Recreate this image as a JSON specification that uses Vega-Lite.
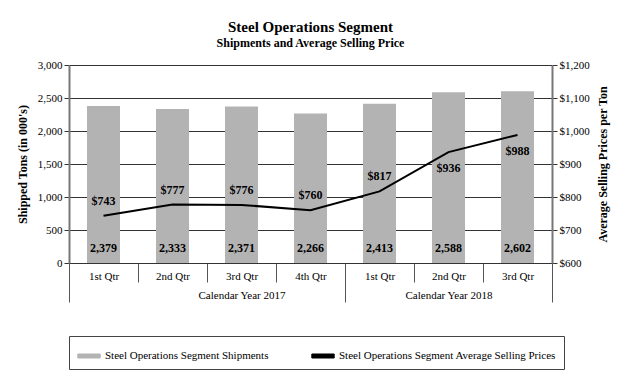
{
  "$schema": "https://vega.github.io/schema/vega-lite/v6.json",
  "width": 483,
  "height": 198,
  "background": "white",
  "padding": {"left": 16, "top": 20, "right": 5, "bottom": 5},
  "config": {
    "font": "Liberation Serif",
    "view": {"stroke": null},
    "axis": {"labelFont": "Liberation Serif", "titleFont": "Liberation Serif", "labelColor": "#000", "titleColor": "#000", "labelFontSize": 11},
    "legend": {"labelFont": "Liberation Serif", "titleFont": "Liberation Serif"}
  },
  "title": {
    "text": "Steel Operations Segment",
    "subtitle": "Shipments and Average Selling Price",
    "font": "Liberation Serif",
    "fontSize": 15,
    "fontWeight": "bold",
    "subtitleFont": "Liberation Serif",
    "subtitleFontSize": 12,
    "subtitleFontWeight": "bold",
    "subtitleColor": "#000",
    "color": "#000",
    "anchor": "middle",
    "offset": 10
  },
  "data": {
    "values": [
      {"q": "2017 1st Qtr", "shipments": 2379, "price": 743},
      {"q": "2017 2nd Qtr", "shipments": 2333, "price": 777},
      {"q": "2017 3rd Qtr", "shipments": 2371, "price": 776},
      {"q": "2017 4th Qtr", "shipments": 2266, "price": 760},
      {"q": "2018 1st Qtr", "shipments": 2413, "price": 817},
      {"q": "2018 2nd Qtr", "shipments": 2588, "price": 936},
      {"q": "2018 3rd Qtr", "shipments": 2602, "price": 988}
    ]
  },
  "encoding": {
    "x": {
      "field": "q", "type": "nominal", "sort": null,
      "scale": {"type": "band", "paddingInner": 0, "paddingOuter": 0},
      "axis": {
        "title": null,
        "labelExpr": "!isString(datum.value) ? '' : (datum.value === '2017 3rd Qtr' ? ['3rd Qtr', 'Calendar Year 2017\u00a0\u00a0\u00a0\u00a0\u00a0\u00a0\u00a0\u00a0\u00a0\u00a0\u00a0\u00a0\u00a0\u00a0\u00a0\u00a0\u00a0\u00a0\u00a0\u00a0\u00a0\u00a0\u00a0\u00a0\u00a0'] : (datum.value === '2018 2nd Qtr' ? ['2nd Qtr', 'Calendar Year 2018'] : [slice(datum.value, 5), '']))",
        "labelAngle": 0,
        "labelOverlap": false,
        "labelBound": false,
        "labelLineHeight": 19,
        "tickBand": "extent",
        "tickSize": {"condition": {"test": "!isString(datum.value) || datum.value === '2017 4th Qtr' || datum.value === '2018 3rd Qtr'", "value": 39}, "value": 19},
        "labelPadding": {"condition": {"test": "datum.value === '2017 4th Qtr' || datum.value === '2018 3rd Qtr'", "value": -32}, "value": -12},
        "tickColor": "#555",
        "domainColor": "#333",
        "labelFontSize": 11
      }
    }
  },
  "layer": [
    {
      "mark": {"type": "bar", "size": 33},
      "encoding": {
        "y": {
          "field": "shipments", "type": "quantitative",
          "scale": {"domain": [0, 3000], "nice": false},
          "axis": {
            "title": "Shipped Tons (in 000's)",
            "titleFontWeight": "bold",
            "titleFontSize": 12,
            "values": [0, 500, 1000, 1500, 2000, 2500, 3000],
            "format": ",d",
            "grid": true,
            "gridColor": "#333",
            "tickColor": "#333",
            "domainColor": "#777",
            "domainWidth": 2,
            "titlePadding": 8
          }
        },
        "color": {
          "datum": "Steel Operations Segment Shipments",
          "scale": {
            "domain": ["Steel Operations Segment Shipments", "Steel Operations Segment Average Selling Prices"],
            "range": ["#b3b3b3", "#000000"]
          },
          "legend": {
            "title": null,
            "orient": "bottom",
            "direction": "horizontal",
            "strokeColor": "#444",
            "padding": 8,
            "offset": 33,
            "labelFont": "Liberation Serif",
            "labelFontSize": 11,
            "labelColor": "#000",
            "labelLimit": 400,
            "columnPadding": 40,
            "symbolType": "M-1,-0.18H1V0.18H-1Z",
            "symbolSize": 500,
            "symbolStrokeWidth": 1
          }
        }
      }
    },
    {
      "mark": {"type": "text", "fontWeight": "bold", "fontSize": 12, "dy": -15, "baseline": "middle", "color": "#000"},
      "encoding": {
        "y": {"datum": 0, "type": "quantitative", "scale": {"domain": [0, 3000], "nice": false}, "axis": null},
        "text": {"field": "shipments", "type": "quantitative", "format": ",d"}
      }
    },
    {
      "mark": {"type": "line", "strokeWidth": 2},
      "encoding": {
        "y": {
          "field": "price", "type": "quantitative",
          "scale": {"domain": [600, 1200], "nice": false, "zero": false},
          "axis": {
            "orient": "right",
            "title": "Average Selling Prices per Ton",
            "titleAngle": 270,
            "titleBaseline": "top",
            "titleFontWeight": "bold",
            "titleFontSize": 12,
            "values": [600, 700, 800, 900, 1000, 1100, 1200],
            "format": "$,d",
            "grid": false,
            "tickColor": "#333",
            "domainColor": "#777",
            "domainWidth": 2,
            "titlePadding": 8
          }
        },
        "color": {"datum": "Steel Operations Segment Average Selling Prices"}
      }
    },
    {
      "transform": [{"filter": "datum.price < 900"}],
      "mark": {"type": "text", "fontWeight": "bold", "fontSize": 12, "dy": -15, "baseline": "middle", "color": "#000"},
      "encoding": {
        "y": {"field": "price", "type": "quantitative", "scale": {"domain": [600, 1200], "nice": false, "zero": false}, "axis": null},
        "text": {"field": "price", "type": "quantitative", "format": "$,d"}
      }
    },
    {
      "transform": [{"filter": "datum.price >= 900"}],
      "mark": {"type": "text", "fontWeight": "bold", "fontSize": 12, "dy": 16, "baseline": "middle", "color": "#000"},
      "encoding": {
        "y": {"field": "price", "type": "quantitative", "scale": {"domain": [600, 1200], "nice": false, "zero": false}, "axis": null},
        "text": {"field": "price", "type": "quantitative", "format": "$,d"}
      }
    }
  ],
  "resolve": {"scale": {"y": "independent"}}
}
